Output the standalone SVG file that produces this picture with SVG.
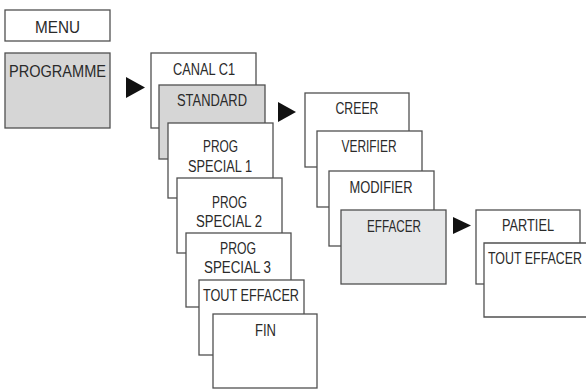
<svg xmlns="http://www.w3.org/2000/svg" width="586" height="389" viewBox="0 0 586 389">
<style>
rect{stroke:#505050;stroke-width:1.3;fill:#fff}
rect.g{fill:#d6d6d6}
rect.l{fill:#e6e7e8}
rect.n{stroke:none}
path.o{fill:none;stroke:#505050;stroke-width:1.3}
text{font-family:"Liberation Sans",Arial,sans-serif;font-size:16px;fill:#2a2a2a;text-anchor:middle}
.arr{fill:#111}
</style>
<rect x="0" y="0" width="586" height="389" style="fill:#fff;stroke:none"/>
<g id="menu"><rect x="5" y="10" width="105" height="31"/><text x="57.5" y="33" textLength="45" lengthAdjust="spacingAndGlyphs">MENU</text></g>
<g id="programme"><rect class="g" x="5" y="53" width="105" height="75"/><text x="57.5" y="77" textLength="97" lengthAdjust="spacingAndGlyphs">PROGRAMME</text></g>
<g id="canal"><rect x="151" y="53" width="105" height="75"/><text x="204" y="75" textLength="62" lengthAdjust="spacingAndGlyphs">CANAL C1</text></g>
<g id="standard"><rect class="g" x="159" y="85" width="106" height="74"/><text x="212" y="106" textLength="70" lengthAdjust="spacingAndGlyphs">STANDARD</text></g>
<g id="ps1"><rect x="168" y="123" width="105" height="75"/><text x="220.5" y="152" textLength="35" lengthAdjust="spacingAndGlyphs">PROG</text><text x="220" y="172" textLength="64" lengthAdjust="spacingAndGlyphs">SPECIAL 1</text></g>
<g id="ps2"><rect x="177" y="178" width="105" height="75"/><text x="229.5" y="208" textLength="35" lengthAdjust="spacingAndGlyphs">PROG</text><text x="229" y="227" textLength="66" lengthAdjust="spacingAndGlyphs">SPECIAL 2</text></g>
<g id="ps3"><rect x="186" y="233" width="105" height="74"/><text x="238" y="254" textLength="36" lengthAdjust="spacingAndGlyphs">PROG</text><text x="237.5" y="273" textLength="67" lengthAdjust="spacingAndGlyphs">SPECIAL 3</text></g>
<g id="tout1"><rect x="199" y="280" width="105" height="75"/><text x="251" y="301" textLength="96" lengthAdjust="spacingAndGlyphs">TOUT EFFACER</text></g>
<g id="fin"><rect x="213" y="314" width="104" height="74"/><text x="265.5" y="336" textLength="21" lengthAdjust="spacingAndGlyphs">FIN</text></g>
<g id="creer"><rect x="305" y="93" width="104" height="74"/><text x="357" y="114" textLength="43" lengthAdjust="spacingAndGlyphs">CREER</text></g>
<g id="verifier"><rect x="317" y="131" width="105" height="76"/><text x="369" y="152" textLength="55" lengthAdjust="spacingAndGlyphs">VERIFIER</text></g>
<g id="modifier"><rect x="329" y="171" width="105" height="75"/><text x="381" y="193" textLength="63" lengthAdjust="spacingAndGlyphs">MODIFIER</text></g>
<g id="effacer"><rect class="l" x="341" y="210" width="105" height="74"/><text x="394" y="232" textLength="54" lengthAdjust="spacingAndGlyphs">EFFACER</text></g>
<g id="partiel"><rect x="476" y="210" width="104" height="74"/><text x="528" y="231" textLength="52" lengthAdjust="spacingAndGlyphs">PARTIEL</text></g>
<g id="tout2"><rect class="n" x="484" y="243" width="102" height="74"/><path class="o" d="M586,243H484V317H586"/><text transform="translate(535,264) scale(1,1.23)" x="0" y="0" style="font-size:13px" textLength="94" lengthAdjust="spacingAndGlyphs">TOUT EFFACER</text></g>
<g id="connectors">
<polygon class="arr" points="126,77 145,87.5 126,98"/>
<polygon class="arr" points="278,102 296,112 278,122"/>
<polygon class="arr" points="453,217 471,225.5 453,234"/>
</g>
</svg>
